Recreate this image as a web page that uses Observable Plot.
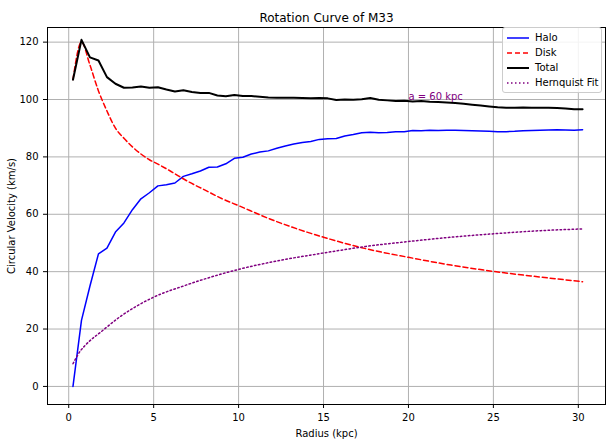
<!DOCTYPE html>
<html>
<head>
<meta charset="utf-8">
<script src="https://cdn.jsdelivr.net/npm/d3@7"></script>
<script src="https://cdn.jsdelivr.net/npm/@observablehq/plot@0.6"></script>
<style>
  body { margin: 0; background: #fff; font-family: "DejaVu Sans", sans-serif; }
  #wrap { position: relative; width: 612px; height: 441px; }
  #legend { position: absolute; left: 502px; top: 27px; width: 98px; background: rgba(255,255,255,0.85);
    border: 1px solid #ccc; border-radius: 3px; font-size: 10px; padding: 2px 0; }
  .row { display: flex; align-items: center; height: 15px; }
  .row svg { margin: 0 6px 0 4px; }
</style>
</head>
<body>
<div id="wrap">
  <div id="chart"></div>
  <div id="legend"></div>
</div>
<script>
// measured radii, every 0.5 kpc
const radius = d3.range(61).map(i => 0.25 + i * 0.5);

const halo = [0, 23, 35, 46.2, 48.2, 53.8, 57, 61.6, 65.4, 67.5, 69.9, 70.3, 70.9, 73.2, 74.1, 75.1,
  76.4, 76.5, 77.6, 79.5, 79.9, 81, 81.7, 82.1, 83, 83.8, 84.5, 85, 85.4, 86.1, 86.3, 86.4, 87.3, 87.8,
  88.4, 88.6, 88.4, 88.5, 88.8, 88.8, 89.2, 89.1, 89.3, 89.2, 89.3, 89.3, 89.2, 89.1, 89.0, 88.9, 88.8,
  88.8, 88.9, 89.1, 89.2, 89.3, 89.4, 89.5, 89.4, 89.3, 89.5];

const total = [106.9, 120.8, 114.7, 113.6, 107.8, 105.5, 104.1, 104.2, 104.5, 104.1, 104.3, 103.5,
  102.8, 103.2, 102.6, 102.3, 102.3, 101.4, 101.1, 101.6, 101.2, 101.2, 101.0, 100.7, 100.6, 100.6,
  100.6, 100.5, 100.4, 100.5, 100.4, 99.8, 100.0, 99.9, 100.1, 100.5, 99.9, 99.7, 99.5, 99.6, 99.3,
  99.5, 99.2, 99.1, 99.0, 98.8, 98.5, 98.2, 97.9, 97.6, 97.3, 97.1, 97.1, 97.2, 97.1, 97.1, 97.1, 97.0,
  96.9, 96.6, 96.6];

// disk and Hernquist curves, read at coarser radii
const diskR = [0.25, 0.75, 1.25, 1.75, 2.25, 2.75, 3.25, 3.75, 4.25, 4.75, 5.25, 6, 7, 8, 9, 10, 12, 15, 17.5, 20, 22.5, 25, 27.5, 30.25];
const disk = [107, 120, 112, 103, 96, 90, 86.5, 83.5, 81, 79, 77.5, 75, 71.5, 68.5, 65.5, 63, 58, 52, 48, 45, 42.3, 40.1, 38.3, 36.5];

const hernR = [0.25, 0.7, 1, 2, 3, 4, 5, 7, 10, 12.5, 15, 17.5, 20, 22.5, 25, 27.5, 30.25];
const hern = [7.9, 12.5, 14.5, 19.5, 24.2, 28, 31.1, 35.5, 40.8, 44, 46.5, 48.8, 50.5, 52, 53.2, 54.2, 54.9];

const xTicks = [0, 5, 10, 15, 20, 25, 30];
const yTicks = [0, 20, 40, 60, 80, 100, 120];

const series = [
  {name: "Halo", color: "blue", dash: null, width: 1.5},
  {name: "Disk", color: "red", dash: "5,3", width: 1.5},
  {name: "Total", color: "black", dash: null, width: 2},
  {name: "Hernquist Fit", color: "purple", dash: "1.5,2.5", width: 1.5}
];

const rows = (xs, ys) => xs.map((r, i) => ({r, v: ys[i]}));

const chart = Plot.plot({
  width: 612,
  height: 441,
  marginTop: 27,
  marginBottom: 37,
  marginLeft: 47,
  marginRight: 7,
  style: {fontFamily: "DejaVu Sans, sans-serif", fontSize: "10px", color: "#000"},
  x: {domain: [-1.25, 31.6]},
  y: {domain: [-6.3, 125.1]},
  marks: [
    Plot.gridX(xTicks, {stroke: "#b0b0b0", strokeOpacity: 1}),
    Plot.gridY(yTicks, {stroke: "#b0b0b0", strokeOpacity: 1}),
    Plot.frame({stroke: "#000"}),
    Plot.axisX(xTicks, {tickSize: 4, label: "Radius (kpc)", labelAnchor: "center", labelArrow: "none", labelOffset: 32}),
    Plot.axisY(yTicks, {tickSize: 4, label: "Circular Velocity (km/s)", labelAnchor: "center", labelArrow: "none", labelOffset: 40}),
    Plot.line(rows(radius, halo), {x: "r", y: "v", stroke: "blue", strokeWidth: 1.5}),
    Plot.line(rows(diskR, disk), {x: "r", y: "v", stroke: "red", strokeWidth: 1.5, strokeDasharray: "5,3", curve: "monotone-x"}),
    Plot.line(rows(radius, total), {x: "r", y: "v", stroke: "black", strokeWidth: 2}),
    Plot.line(rows(hernR, hern), {x: "r", y: "v", stroke: "purple", strokeWidth: 1.5, strokeDasharray: "1.5,2.5", curve: "monotone-x"}),
    Plot.text([{r: 20, v: 100}], {x: "r", y: "v", text: () => "a = 60 kpc", fill: "purple", textAnchor: "start", dy: -3, fontSize: 10}),
    Plot.text(["Rotation Curve of M33"], {frameAnchor: "top", dy: -14, fontSize: 12})
  ]
});
document.getElementById("chart").append(chart);

const legend = document.getElementById("legend");
for (const s of series) {
  const row = document.createElement("div");
  row.className = "row";
  row.innerHTML = `<svg width="22" height="6"><line x1="0" y1="3" x2="22" y2="3" stroke="${s.color}" stroke-width="${s.width}" ${s.dash ? `stroke-dasharray="${s.dash}"` : ""}/></svg><span>${s.name}</span>`;
  legend.append(row);
}
</script>
</body>
</html>
